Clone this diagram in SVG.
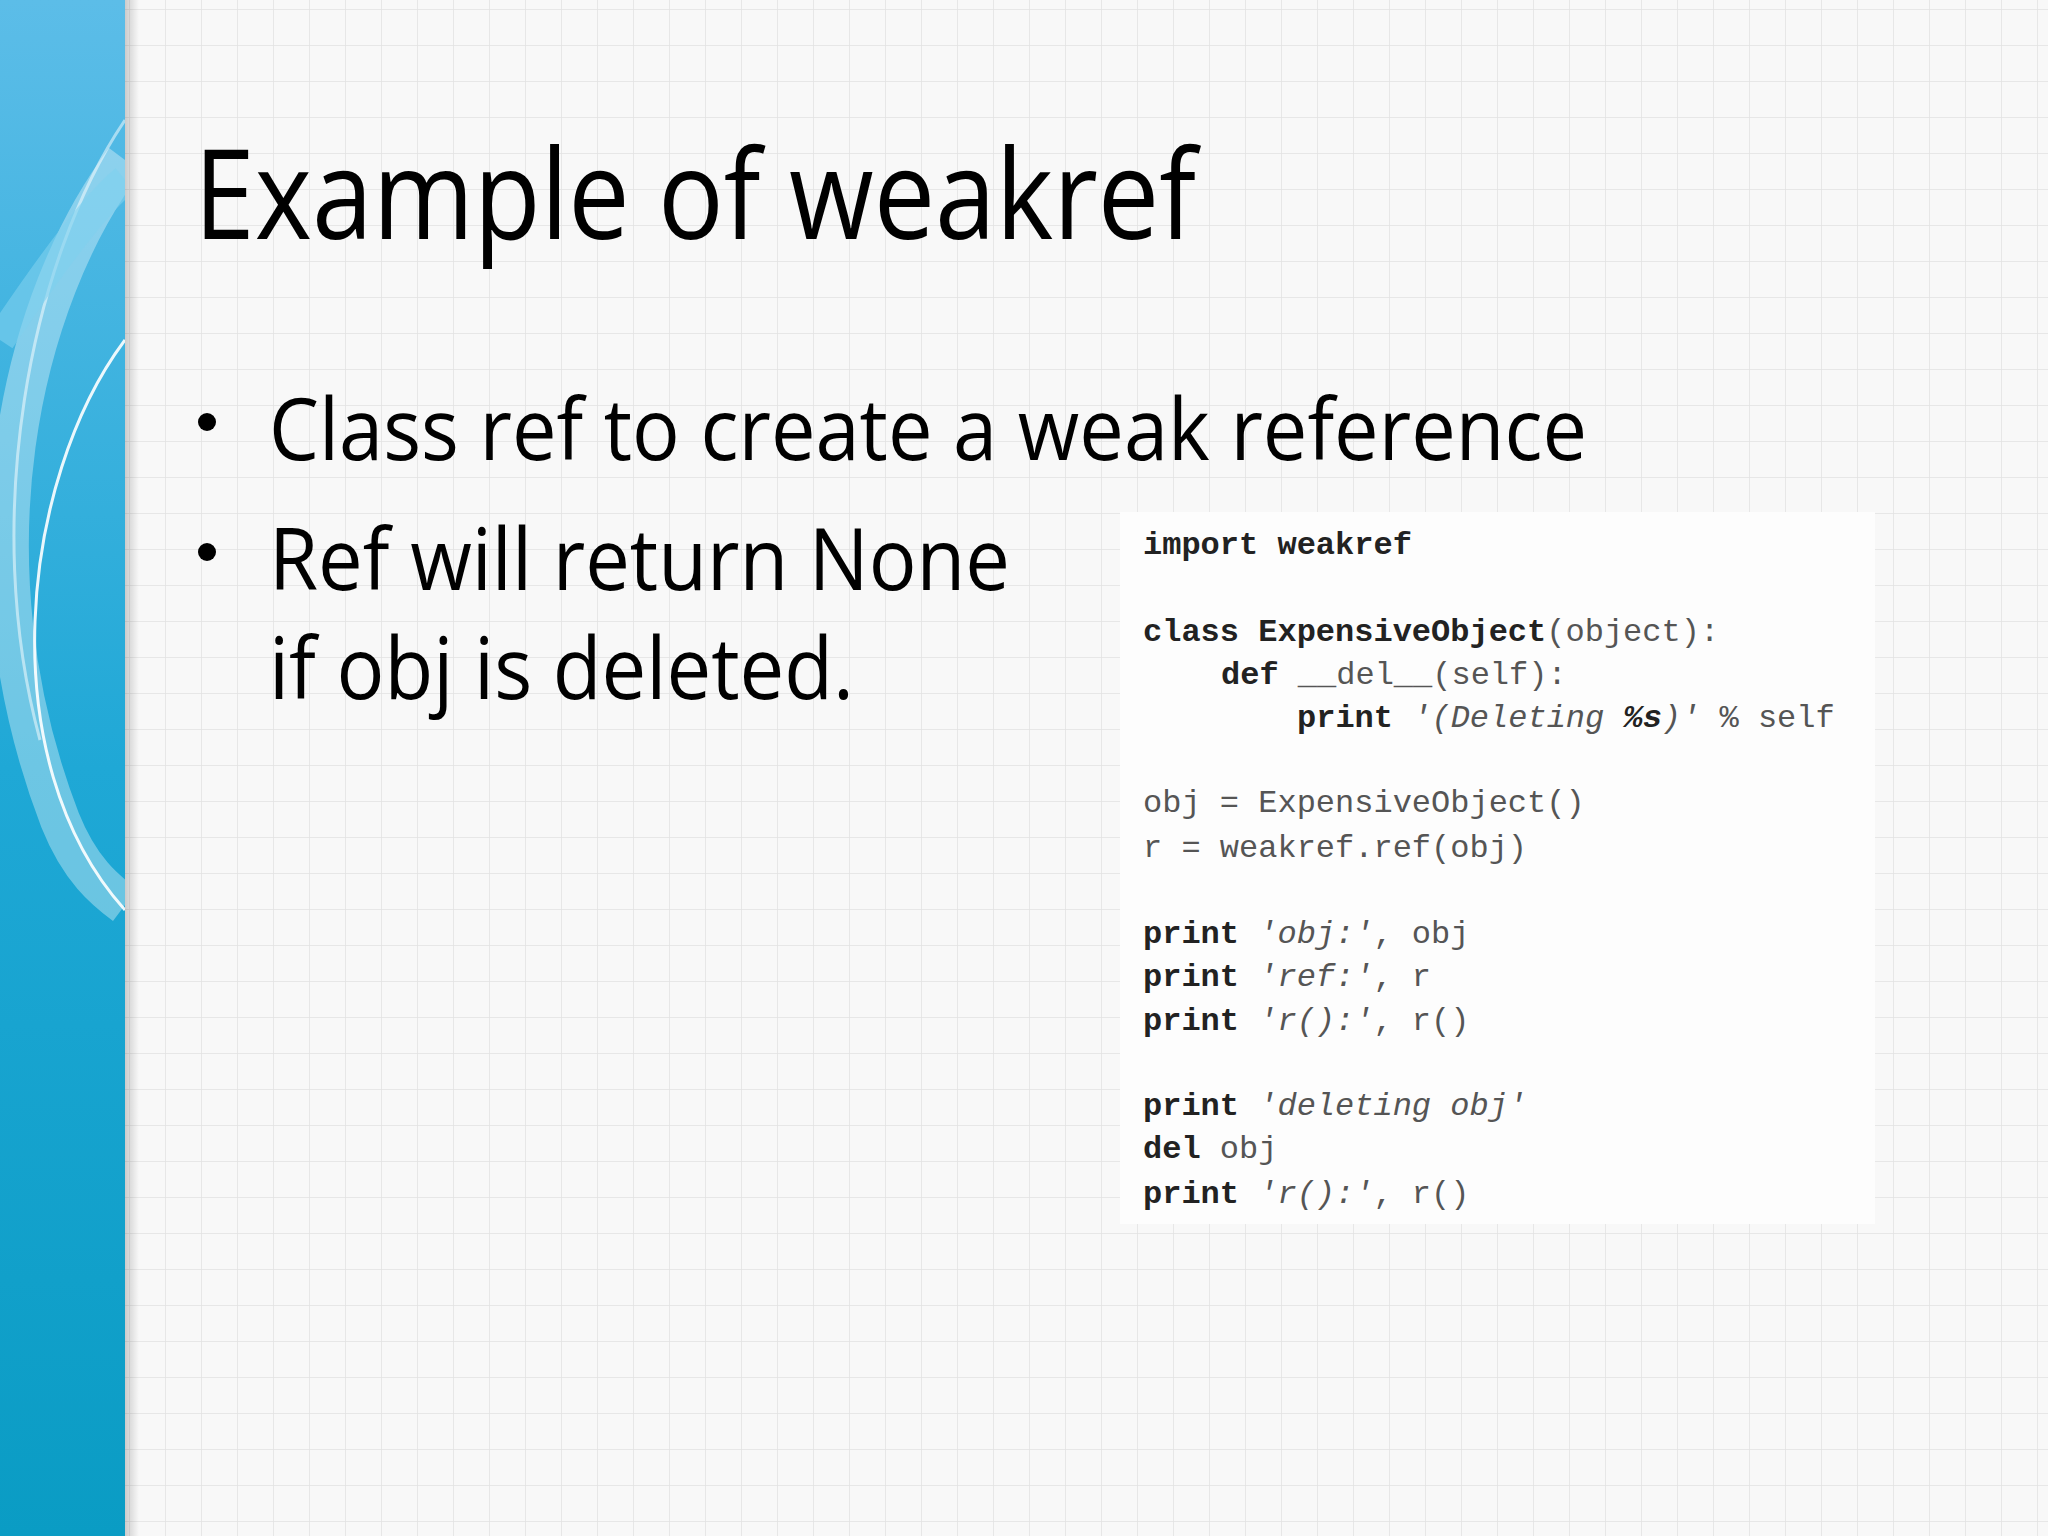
<svg xmlns="http://www.w3.org/2000/svg" width="2048" height="1536" viewBox="0 0 2048 1536">
<defs>
<pattern id="grid" width="36" height="36" patternUnits="userSpaceOnUse" x="130" y="10">
<rect width="36" height="36" fill="#f8f8f8"/>
<path d="M36 0V36M0 36H36" stroke="#e2e2e2" stroke-width="1.5" fill="none"/>
</pattern>
<linearGradient id="band" x1="0" y1="0" x2="0" y2="1">
<stop offset="0" stop-color="#5cbde8"/>
<stop offset="0.5" stop-color="#1fa8d6"/>
<stop offset="1" stop-color="#0a9cc4"/>
</linearGradient>
<linearGradient id="shade" x1="0" y1="0" x2="1" y2="0">
<stop offset="0" stop-color="#000" stop-opacity="0.18"/>
<stop offset="1" stop-color="#000" stop-opacity="0"/>
</linearGradient>
<clipPath id="bandclip"><rect x="0" y="0" width="125" height="1536"/></clipPath>
<style>
.t{font-family:"Open Sans","Liberation Sans",sans-serif;fill:#000}
.c{font-family:"Liberation Mono","DejaVu Sans Mono",monospace;font-size:32px;fill:#555}
.k{font-weight:bold;fill:#222}
.s{font-style:italic}
</style>
</defs>
<rect width="2048" height="1536" fill="url(#grid)"/>
<rect x="125" y="0" width="14" height="1536" fill="url(#shade)"/>
<g id="band">
<rect x="0" y="0" width="125" height="1536" fill="url(#band)"/>
<g clip-path="url(#bandclip)" fill="none">
<path d="M125 160 C 20 300, -40 560, 60 820 C 80 870, 105 890, 125 905" stroke="#ffffff" stroke-opacity="0.35" stroke-width="40"/>
<path d="M125 340 C 20 480, -10 760, 125 910" stroke="#ffffff" stroke-opacity="0.9" stroke-width="3"/>
<path d="M125 120 C 30 260, -20 520, 40 740" stroke="#ffffff" stroke-opacity="0.5" stroke-width="3"/>
<path d="M0 340 C 60 250, 100 200, 125 180" stroke="#7fd0ee" stroke-opacity="0.6" stroke-width="30"/>
</g>
</g>
<g id="title"><text class="t" x="194" y="239" font-size="124" textLength="1002" lengthAdjust="spacingAndGlyphs">Example of weakref</text></g>
<g id="bullets">
<circle cx="207" cy="422" r="9" fill="#000"/>
<text class="t" x="269" y="460" font-size="86" textLength="1318" lengthAdjust="spacingAndGlyphs">Class ref to create a weak reference</text>
<circle cx="207" cy="552" r="9" fill="#000"/>
<text class="t" x="269" y="590" font-size="86" textLength="741" lengthAdjust="spacingAndGlyphs">Ref will return None</text>
<text class="t" x="269" y="699" font-size="86" textLength="585" lengthAdjust="spacingAndGlyphs">if obj is deleted.</text>
</g>
<g id="code">
<rect x="1120" y="512" width="755" height="712" fill="#fdfdfd"/>
<text class="c" x="1143" y="554"><tspan class="k">import weakref</tspan></text>
<text class="c" x="1143" y="641"><tspan class="k">class ExpensiveObject</tspan>(object):</text>
<text class="c" x="1221" y="684"><tspan class="k">def</tspan> __del__(self):</text>
<text class="c" x="1297" y="727"><tspan class="k">print</tspan> <tspan class="s">'(Deleting </tspan><tspan class="s k">%s</tspan><tspan class="s">)'</tspan> % self</text>
<text class="c" x="1143" y="812">obj = ExpensiveObject()</text>
<text class="c" x="1143" y="857">r = weakref.ref(obj)</text>
<text class="c" x="1143" y="943"><tspan class="k">print</tspan> <tspan class="s">'obj:'</tspan>, obj</text>
<text class="c" x="1143" y="986"><tspan class="k">print</tspan> <tspan class="s">'ref:'</tspan>, r</text>
<text class="c" x="1143" y="1030"><tspan class="k">print</tspan> <tspan class="s">'r():'</tspan>, r()</text>
<text class="c" x="1143" y="1115"><tspan class="k">print</tspan> <tspan class="s">'deleting obj'</tspan></text>
<text class="c" x="1143" y="1158"><tspan class="k">del</tspan> obj</text>
<text class="c" x="1143" y="1203"><tspan class="k">print</tspan> <tspan class="s">'r():'</tspan>, r()</text>
</g>
</svg>
